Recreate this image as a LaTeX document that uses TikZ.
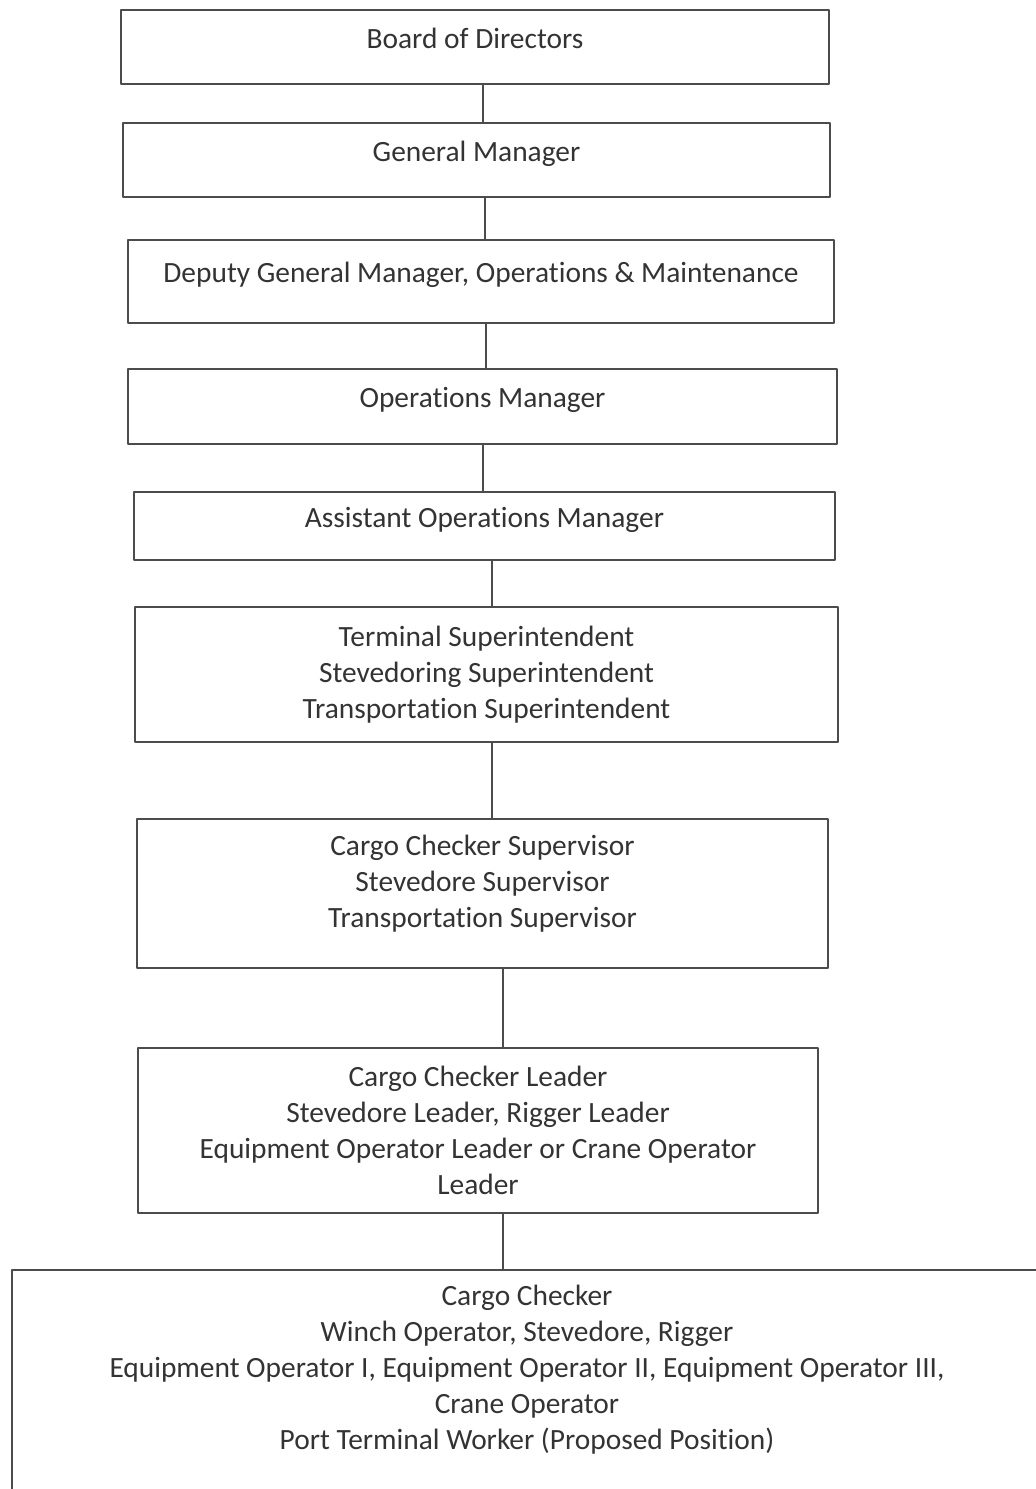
\documentclass[tikz,border=0pt]{standalone}
\usepackage{fontspec}
\setmainfont{Carlito}[Ligatures={NoCommon,NoRequired,NoContextual}, RawFeature={-liga;-clig;-calt;-rlig}]
\begin{document}
\begin{tikzpicture}[x=0.5pt, y=-0.5pt, line join=round, line cap=round,
  font=\fontsize{14.7}{18}\selectfont,
  box/.style={draw=black!70, line width=0.8pt, rectangle, inner sep=0pt, align=center, text=black!80},
  oneline/.style={text height=9pt, text depth=8pt},
  link/.style={draw=black!70, line width=0.7pt}]
\useasboundingbox (0,0) rectangle (1036,1489);
\node[box, oneline, minimum width=354pt, minimum height=37pt] (bod) at (475,47) {Board of Directors};
\node[box, oneline, minimum width=353.5pt, minimum height=37pt] (gm) at (476.5,160) {General Manager};
\node[box, oneline, minimum width=353pt, minimum height=41.5pt] (dgm) at (481,281.5) {Deputy General Manager, Operations \& Maintenance};
\node[box, oneline, minimum width=354.5pt, minimum height=37.5pt] (om) at (482.5,406.5) {Operations Manager};
\node[box, oneline, minimum width=350.5pt, minimum height=34pt] (aom) at (484.5,526) {Assistant Operations Manager};
\node[box, minimum width=351.5pt, minimum height=67.5pt] (supt) at (486.5,674.5) {Terminal Superintendent\\Stevedoring Superintendent\\Transportation Superintendent};
\node[box, text depth=12pt, minimum width=345.5pt, minimum height=74.5pt] (supv) at (482.5,893.5) {Cargo Checker Supervisor\\Stevedore Supervisor\\Transportation Supervisor};
\node[box, minimum width=340pt, minimum height=82.5pt] (lead) at (478,1130.5) {Cargo Checker Leader\\Stevedore Leader, Rigger Leader\\Equipment Operator Leader or Crane Operator\\Leader};
\node[box, anchor=north west, minimum width=520pt, minimum height=120pt] (crew) at (11,1269) {};
\node[align=center, text=black!80, inner sep=0pt] (crewtext) at (527,1370) {Cargo Checker\\Winch Operator, Stevedore, Rigger\\Equipment Operator I, Equipment Operator II, Equipment Operator III,\\Crane Operator\\Port Terminal Worker (Proposed Position)};
\foreach \a/\b/\x in {bod/gm/483, gm/dgm/485, dgm/om/486, om/aom/483, aom/supt/492, supt/supv/492, supv/lead/503, lead/crew/503}
  \draw[link] (\a.south -| \x,0) -- (\b.north -| \x,0);
\end{tikzpicture}
\end{document}
